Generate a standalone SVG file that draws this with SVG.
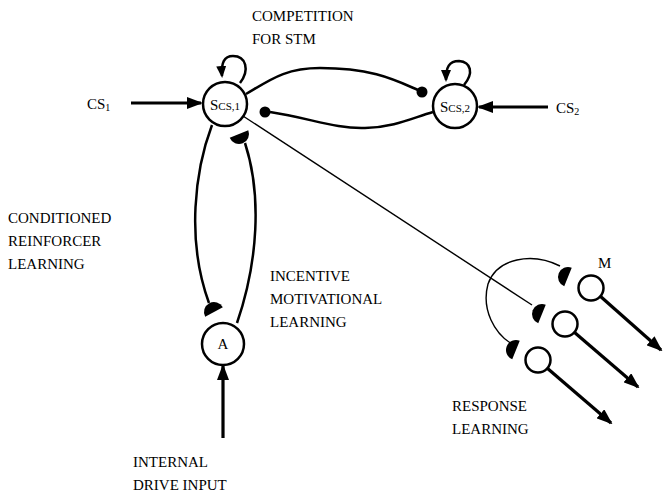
<svg xmlns="http://www.w3.org/2000/svg" width="663" height="496" viewBox="0 0 663 496">
  <style>
    text { font-family: "Liberation Serif", "Times New Roman", serif; font-size: 15px; fill: #000; }
    .thick { fill: none; stroke: #000; stroke-width: 2.5; }
    .bold { fill: none; stroke: #000; stroke-width: 3.2; }
    .thin { fill: none; stroke: #000; stroke-width: 1.4; }
    .cell { fill: #fff; stroke: #000; stroke-width: 2.5; }
    .knob { fill: #000; }
    .dot { fill: #000; }
  </style>
  <defs>
    <marker id="head" markerUnits="userSpaceOnUse" markerWidth="16" markerHeight="12" refX="14" refY="6" orient="auto">
      <path d="M0,0 L16,6 L0,12 Z" fill="#000"/>
    </marker>
    <marker id="headSmall" markerUnits="userSpaceOnUse" markerWidth="12" markerHeight="10" refX="10" refY="5" orient="auto">
      <path d="M0,0 L12,5 L0,10 Z" fill="#000"/>
    </marker>
    <!-- half-disc synaptic knob: flat edge on x=0, facing +x -->
    <path id="knobShape" d="M0,-10 A10,10 0 0 0 0,10 Z"/>
  </defs>

  <!-- connectors -->
  <g id="connectors">
    <!-- external inputs -->
    <line class="bold" x1="131" y1="103" x2="201" y2="103" marker-end="url(#head)"/>
    <line class="bold" x1="548" y1="107" x2="479" y2="107" marker-end="url(#head)"/>
    <line class="bold" x1="223" y1="438" x2="223" y2="366" marker-end="url(#head)"/>

    <!-- self-excitation loops -->
    <path class="thick" d="M240,83 C250,70 246,56 233,56 C224,56 221,63 222,76" marker-end="url(#headSmall)"/>
    <path class="thick" d="M464,85 C474,73 471,62 459,61 C449,61 446,67 446,80" marker-end="url(#headSmall)"/>

    <!-- competition for STM -->
    <path class="thick" d="M246,94 C270,80 285,68 320,68 C372,68 395,80 418,90"/>
    <circle class="dot" cx="422" cy="92" r="5.5"/>
    <path class="thick" d="M270,112 C310,118 335,129 365,128 C395,127 412,118 433,112"/>
    <circle class="dot" cx="265" cy="112" r="5.5"/>

    <!-- conditioned reinforcer / incentive motivational pathways -->
    <path class="thick" d="M212,125 C195,170 186,240 209,303"/>
    <path class="thick" d="M237,323 C258,262 262,195 245,143"/>
    <use href="#knobShape" class="knob" transform="translate(239,134) rotate(-112)"/>
    <use href="#knobShape" class="knob" transform="translate(214,312) rotate(62)"/>

    <!-- response learning pathways -->
    <line class="thin" x1="243" y1="116" x2="532" y2="305"/>
    <path class="thin" d="M560,266 C532,252 497,258 488,284 C481,310 495,334 512,344"/>
    <use href="#knobShape" class="knob" transform="translate(568,277) rotate(22)"/>
    <use href="#knobShape" class="knob" transform="translate(542,314) rotate(22)"/>
    <use href="#knobShape" class="knob" transform="translate(516,350) rotate(22)"/>

    <!-- motor outputs -->
    <line class="bold" x1="600" y1="296" x2="661" y2="350" marker-end="url(#head)"/>
    <line class="bold" x1="574" y1="332" x2="638" y2="387" marker-end="url(#head)"/>
    <line class="bold" x1="547" y1="368" x2="611" y2="423" marker-end="url(#head)"/>
  </g>

  <!-- nodes -->
  <g id="node-scs1">
    <circle class="cell" cx="225" cy="104" r="22"/>
    <text x="225" y="110" text-anchor="middle">S<tspan font-size="11">CS,1</tspan></text>
  </g>
  <g id="node-scs2">
    <circle class="cell" cx="455" cy="106" r="22"/>
    <text x="455" y="112" text-anchor="middle">S<tspan font-size="11">CS,2</tspan></text>
  </g>
  <g id="node-a">
    <circle class="cell" cx="223" cy="344" r="21"/>
    <text x="223" y="349" text-anchor="middle">A</text>
  </g>
  <g id="node-m">
    <circle class="cell" cx="591" cy="288" r="12.5"/>
    <circle class="cell" cx="565" cy="324" r="12.5"/>
    <circle class="cell" cx="538" cy="360" r="12.5"/>
    <text x="598" y="268">M</text>
  </g>

  <!-- labels -->
  <g id="labels">
    <text x="87" y="109">CS<tspan font-size="10" dy="2">1</tspan></text>
    <text x="556" y="113">CS<tspan font-size="10" dy="2">2</tspan></text>
    <text x="252" y="21">COMPETITION</text>
    <text x="252" y="44">FOR STM</text>
    <text x="8" y="223">CONDITIONED</text>
    <text x="8" y="246">REINFORCER</text>
    <text x="8" y="269">LEARNING</text>
    <text x="270" y="281">INCENTIVE</text>
    <text x="270" y="304">MOTIVATIONAL</text>
    <text x="270" y="327">LEARNING</text>
    <text x="452" y="411">RESPONSE</text>
    <text x="452" y="434">LEARNING</text>
    <text x="133" y="467">INTERNAL</text>
    <text x="133" y="490">DRIVE INPUT</text>
  </g>
</svg>
